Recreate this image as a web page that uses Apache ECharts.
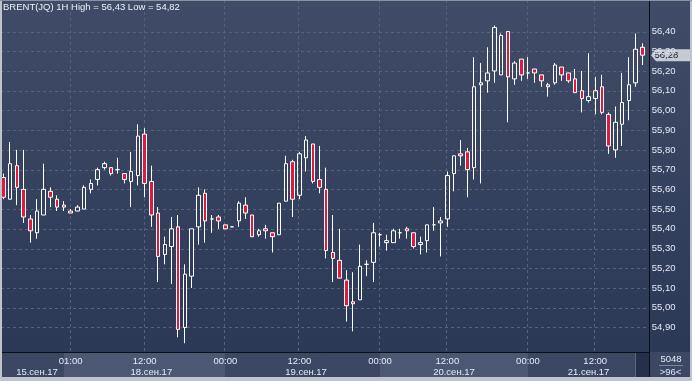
<!DOCTYPE html>
<html><head><meta charset="utf-8">
<script src="https://cdn.jsdelivr.net/npm/echarts@6/dist/echarts.min.js"></script>
<style>html,body{margin:0;padding:0;background:#2f3b58}#c{width:692px;height:381px}</style>
</head><body><div id="c"></div>
<script>
// ---- data (hourly candles) ----
const opens = [55.66,55.55,55.72,55.60,55.45,55.38,55.47,55.59,55.55,55.52,
55.49,55.49,55.50,55.60,55.65,55.71,55.71,55.70,55.68,55.64,
55.67,55.88,55.64,55.48,55.27,55.31,55.41,54.90,55.16,55.41,
55.58,55.45,55.46,55.42,55.41,55.44,55.52,55.47,55.37,55.40,
55.38,55.37,55.54,55.74,55.57,55.76,55.83,55.65,55.60,55.28,
55.24,55.14,55.03,55.04,55.22,55.23,55.37,55.33,55.33,55.38,
55.40,55.38,55.32,55.34,55.42,55.43,55.45,55.68,55.78,55.79,
55.71,56.13,56.15,56.20,56.18,56.40,56.16,56.26,56.19,56.21,
56.18,56.13,56.14,56.22,56.19,56.16,56.10,56.05,56.06,56.12,
55.98,55.80,55.93,56.05,56.14,56.32];
const closes = [55.56,55.73,55.61,55.46,55.39,55.49,55.60,55.56,55.51,55.51,
55.48,55.51,55.61,55.63,55.70,55.73,55.68,55.70,55.65,55.69,
55.87,55.63,55.47,55.26,55.32,55.40,54.89,55.17,55.40,55.57,
55.44,55.45,55.44,55.40,55.41,55.53,55.48,55.36,55.39,55.39,
55.36,55.53,55.73,55.55,55.78,55.85,55.64,55.61,55.29,55.25,
55.15,55.01,55.02,55.21,55.22,55.38,55.37,55.34,55.39,55.38,
55.39,55.31,55.33,55.42,55.42,55.44,55.67,55.77,55.77,55.70,
56.12,56.14,56.19,56.42,56.38,56.17,56.24,56.18,56.19,56.19,
56.15,56.12,56.23,56.18,56.15,56.09,56.06,56.07,56.10,55.99,
55.82,55.94,56.04,56.13,56.31,56.28];
const lows = [55.55,55.55,55.52,55.43,55.33,55.35,55.47,55.51,55.49,55.49,
55.48,55.49,55.50,55.58,55.62,55.70,55.67,55.68,55.63,55.51,
55.62,55.56,55.41,55.13,55.22,55.12,54.85,54.82,55.10,55.32,
55.33,55.38,55.40,55.40,55.41,55.41,55.45,55.36,55.36,55.35,
55.28,55.37,55.54,55.46,55.55,55.69,55.63,55.58,55.25,55.13,
55.15,54.93,54.88,55.04,55.16,55.13,55.31,55.29,55.33,55.35,
55.35,55.30,55.27,55.28,55.39,55.26,55.41,55.59,55.72,55.56,
55.65,55.63,56.09,56.14,56.18,55.94,56.13,56.15,56.16,56.14,
56.12,56.07,56.13,56.15,56.14,56.09,55.99,56.04,55.98,55.98,
55.78,55.76,55.82,55.95,56.12,56.23];
const highs = [55.68,55.84,55.80,55.80,55.47,55.55,55.73,55.61,55.57,55.54,
55.50,55.52,55.62,55.65,55.71,55.74,55.71,55.76,55.68,55.79,
55.93,55.91,55.72,55.51,55.36,55.46,55.47,55.22,55.40,55.61,
55.60,55.47,55.47,55.42,55.41,55.54,55.56,55.47,55.40,55.42,
55.38,55.53,55.77,55.75,55.79,55.87,55.83,55.82,55.71,55.47,
55.40,55.19,55.18,55.32,55.24,55.43,55.38,55.37,55.40,55.40,
55.41,55.38,55.36,55.42,55.51,55.46,55.69,55.77,55.85,55.81,
56.27,56.24,56.32,56.43,56.39,56.40,56.25,56.26,56.27,56.21,
56.18,56.14,56.24,56.22,56.19,56.21,56.20,56.29,56.17,56.18,
55.99,56.02,56.19,56.27,56.39,56.34];

const priceTicks = [54.9,55.0,55.1,55.2,55.3,55.4,55.5,55.6,55.7,55.8,55.9,56.0,56.1,56.2,56.3,56.4];
const timeTickIndex = [10,21,33,44,56,66,78,88];
const timeTickLabels = ['01:00','12:00','00:00','12:00','00:00','12:00','00:00','12:00'];
const dateLabelIndex = [5,22,45,67,87];
const dateLabels = ['15.сен.17','18.сен.17','19.сен.17','20.сен.17','21.сен.17'];
const dayBands = [[9,33],[56,78]];
const yMin = 54.7756, yMax = 56.5597;
const barsShown = 96, barsTotal = 5048;

// ---- chart ----
const categories = opens.map((_, i) => String(i));
const ohlc = opens.map((o, i) => [o, closes[i], lows[i], highs[i]]);
const fmt = v => v.toFixed(2).replace('.', ',');
const FONT = '"Liberation Sans", Arial, sans-serif';
const FS = 9.5;
const LABEL = '#e4ebf7';
const GRIDC = '#56627d';

const chart = echarts.init(document.getElementById('c'));
chart.setOption({
  animation: false,
  backgroundColor: new echarts.graphic.LinearGradient(0, 0, 0, 1, [
    {offset: 0, color: '#404c67'}, {offset: 0.92, color: '#2b3856'}, {offset: 1, color: '#2b3856'}]),
  title: {
    text: 'BRENT(JQ) 1H High = ' + fmt(Math.max(...highs)) + ' Low = ' + fmt(Math.min(...lows)),
    left: 3, top: 2, padding: 0, z: 20,
    textStyle: {color: '#edf1f8', fontSize: FS, fontWeight: 'normal', fontFamily: FONT}
  },
  grid: [
    {left: -0.8, width: 646.5, top: 0, height: 352},
    {left: -0.8, width: 646.5, top: 352, height: 25}
  ],
  xAxis: [
    {type: 'category', gridIndex: 0, data: categories, boundaryGap: true, z: 80,
     axisLine: {show: false}, axisTick: {show: false}, splitLine: {show: false},
     axisLabel: {interval: (i) => timeTickIndex.includes(i),
       formatter: (v, i) => { const k = timeTickIndex.indexOf(i); return k < 0 ? '' : timeTickLabels[k]; },
       color: LABEL, fontSize: FS, fontFamily: FONT, margin: 4}},
    {type: 'category', gridIndex: 0, data: categories, boundaryGap: true, position: 'bottom', offset: 11.5, z: 80,
     axisLine: {show: false}, axisTick: {show: false}, splitLine: {show: false},
     axisLabel: {interval: (i) => dateLabelIndex.includes(i),
       formatter: (v, i) => { const k = dateLabelIndex.indexOf(i); return k < 0 ? '' : dateLabels[k]; },
       color: LABEL, fontSize: FS, fontFamily: FONT, margin: 4}},
    {type: 'category', gridIndex: 1, data: categories, boundaryGap: true, show: false}
  ],
  yAxis: [
    {type: 'value', gridIndex: 0, position: 'right', min: yMin, max: yMax, scale: true, z: 80,
     axisLine: {show: false}, axisTick: {show: false}, splitLine: {show: false},
     axisLabel: {customValues: priceTicks, formatter: fmt, color: LABEL, fontSize: FS, fontFamily: FONT, margin: 6}},
    {type: 'value', gridIndex: 1, min: 0, max: 1, show: false}
  ],
  series: [
    {type: 'custom', xAxisIndex: 0, yAxisIndex: 0, z: 1, silent: true,
     data: priceTicks.map(v => [0, v]), encode: {x: 0, y: 1},
     renderItem: (params, api) => {
       const cs = params.coordSys;
       const y = Math.round(api.coord([0, api.value(1)])[1]) + 0.5;
       return {type: 'line', shape: {x1: cs.x + 1, y1: y, x2: cs.x + cs.width + 1.5, y2: y},
               style: {stroke: GRIDC, lineWidth: 1, lineDash: [3, 3]}};
     }},
    {type: 'custom', xAxisIndex: 0, yAxisIndex: 0, z: 1, silent: true,
     data: timeTickIndex.map(i => [i, priceTicks[0]]), encode: {x: 0, y: 1},
     renderItem: (params, api) => {
       const cs = params.coordSys;
       const x = Math.round(api.coord([api.value(0), api.value(1)])[0]) - 0.5;
       return {type: 'line', shape: {x1: x, y1: cs.y, x2: x, y2: cs.y + cs.height},
               style: {stroke: GRIDC, lineWidth: 1, lineDash: [3, 3]}};
     }},
    {type: 'custom', xAxisIndex: 2, yAxisIndex: 1, z: 1, silent: true,
     data: dayBands, encode: {x: [0, 1]},
     renderItem: (params, api) => {
       const p0 = api.coord([api.value(0), 1]);
       const p1 = api.coord([api.value(1), 0]);
       return {type: 'rect', shape: {x: Math.round(p0[0]), y: p0[1], width: Math.round(p1[0]) - Math.round(p0[0]), height: p1[1] - p0[1]},
               style: {fill: '#4b5773'}};
     }},
    {type: 'candlestick', xAxisIndex: 0, yAxisIndex: 0, z: 3, data: ohlc, barWidth: 4,
     itemStyle: {color: 'rgba(0,0,0,0)', color0: '#e3183f', borderColor: '#ffffff', borderColor0: '#ffffff', borderWidth: 1}}
  ]
});

// ---- decorations placed from the axis scale ----
const yLast = chart.convertToPixel({yAxisIndex: 0}, closes[closes.length - 1]);
const frame = '#bfc3cb';
chart.setOption({
  graphic: [
    {type: 'rect', z: 0, shape: {x: 2, y: 352, width: 688, height: 25}, style: {fill: '#3b4763'}, silent: true},
    {type: 'rect', z: 60, shape: {x: 636, y: 353, width: 13, height: 24}, style: {fill: '#27304b'}, silent: true},
    {type: 'line', z: 60, shape: {x1: 635.5, y1: 353, x2: 635.5, y2: 377}, style: {stroke: '#5c6781', lineWidth: 1}, silent: true},
    {type: 'line', z: 60, shape: {x1: 2, y1: 352.5, x2: 649, y2: 352.5}, style: {stroke: '#0a0e16', lineWidth: 1}, silent: true},
    {type: 'line', z: 60, shape: {x1: 649.5, y1: 0, x2: 649.5, y2: 377}, style: {stroke: '#0a0e16', lineWidth: 1}, silent: true},
    {type: 'text', z: 60, x: 671, y: 359.5, style: {text: String(barsTotal), fill: LABEL, font: FS + 'px ' + FONT, align: 'center', verticalAlign: 'middle'}, silent: true},
    {type: 'line', z: 60, shape: {x1: 659, y1: 365.5, x2: 683, y2: 365.5}, style: {stroke: '#7d8699', lineWidth: 1}, silent: true},
    {type: 'text', z: 60, x: 670.5, y: 372.5, style: {text: '>' + barsShown + '<', fill: LABEL, font: FS + 'px ' + FONT, align: 'center', verticalAlign: 'middle'}, silent: true},
    {type: 'polygon', z: 70, shape: {points: [[651, yLast], [656, yLast - 6], [692, yLast - 6], [692, yLast + 6], [656, yLast + 6]]}, style: {fill: '#c6cad3'}, silent: true},
    {type: 'text', z: 71, x: 654.5, y: yLast, style: {text: fmt(closes[closes.length - 1]), fill: '#15203a', font: FS + 'px ' + FONT, verticalAlign: 'middle'}, silent: true},
    {type: 'rect', z: 100, shape: {x: 0, y: 0, width: 2, height: 381}, style: {fill: frame}, silent: true},
    {type: 'rect', z: 100, shape: {x: 690, y: 0, width: 2, height: 381}, style: {fill: frame}, silent: true},
    {type: 'rect', z: 100, shape: {x: 0, y: 377, width: 692, height: 4}, style: {fill: frame}, silent: true},
    {type: 'rect', z: 100, shape: {x: 0, y: 0, width: 692, height: 1}, style: {fill: '#8a91a0'}, silent: true}
  ]
});
</script></body></html>
